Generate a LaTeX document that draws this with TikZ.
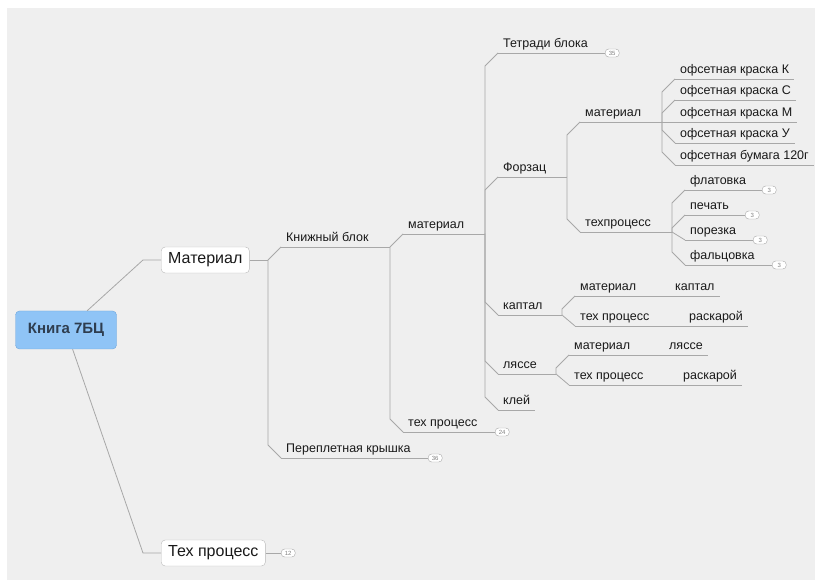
\documentclass[tikz,border=0pt]{standalone}
\usepackage{fontspec}
\setmainfont{Liberation Sans}
\usetikzlibrary{calc}
\definecolor{panel}{HTML}{EFEFEF}
\definecolor{twiggray}{HTML}{A8A8A8}
\definecolor{rootblue}{HTML}{8FC4F6}
\definecolor{rootedge}{HTML}{6FA6DC}
\definecolor{roottext}{HTML}{2E3D4F}
\begin{document}
\begin{tikzpicture}[x=1pt,y=-1pt]
\tikzstyle{root} = [font=\fontsize{15}{17}\selectfont\bfseries,text=roottext,fill=rootblue,draw=rootedge,rounded corners=4,minimum width=101,minimum height=38];
\tikzstyle{main} = [font=\fontsize{16}{18}\selectfont,text=black!90,fill=white,draw=gray!55,rounded corners=4,minimum height=26,inner xsep=7,anchor=west];
\tikzstyle{topic} = [font=\fontsize{12.5}{15}\selectfont,text=black!90,anchor=south west,inner xsep=5,inner ysep=2,text height=10,text depth=3];
\tikzstyle{count} = [font=\fontsize{6}{6}\selectfont,text=gray,fill=white,draw=gray!70,rounded corners=3.5,minimum width=14,minimum height=8,inner sep=0,anchor=west];
\tikzstyle{twig} = [draw=twiggray,line width=0.8];
\tikzstyle{rise} = [to path={|- ($(\tikztotarget.south west)+(-13,13)$) -- (\tikztotarget.south west)}];
\tikzstyle{fall} = [to path={|- ($(\tikztotarget.south west)+(-13,-13)$) -- (\tikztotarget.south west)}];
\fill[white] (0,0) rectangle (815,580);
\fill[panel] (7,8) rectangle (815,580);
\useasboundingbox (0,0) rectangle (815,580);

% main topics
\node [root] (book) at (66,330) {Книга 7БЦ};
\node [main] (mat) at (161,260) {Материал};
\node [main] (tp) at (161,553) {Тех процесс};
\node [count] (tp-n) at (281,553) {12};

% Материал
\node [topic] (kb) at (281,247) {Книжный блок};
\node [topic] (pk) at (281,458) {Переплетная крышка};
\node [count] (pk-n) at (428,458) {36};
\node [topic] (kbm) at (403,234) {материал};
\node [topic] (kbt) at (403,432) {тех процесс};
\node [count] (kbt-n) at (495,432) {24};
\node [topic] (tb) at (498,53) {Тетради блока};
\node [count] (tb-n) at (605,53) {35};
\node [topic] (fz) at (498,177) {Форзац};
\node [topic] (kp) at (498,315) {каптал};
\node [topic] (ls) at (498,374) {ляссе};
\node [topic] (kl) at (498,410) {клей};

% Форзац
\node [topic] (fzm) at (580,122) {материал};
\node [topic] (fzt) at (580,232) {техпроцесс};
\node [topic] (k1) at (675,79) {офсетная краска К};
\node [topic] (k2) at (675,100) {офсетная краска С};
\node [topic] (k3) at (675,122) {офсетная краска М};
\node [topic] (k4) at (675,143) {офсетная краска У};
\node [topic] (k5) at (675,165) {офсетная бумага 120г};
\node [topic] (t1) at (685,190) {флатовка};
\node [count] (t1-n) at (762,190) {3};
\node [topic] (t2) at (685,215) {печать};
\node [count] (t2-n) at (745,215) {3};
\node [topic] (t3) at (685,240) {порезка};
\node [count] (t3-n) at (753,240) {3};
\node [topic] (t4) at (685,265) {фальцовка};
\node [count] (t4-n) at (772,265) {3};

% каптал, ляссе
\node [topic] (kpm) at (575,296) {материал};
\node [topic] (kpl) at (670,296) {каптал};
\node [topic] (kpt) at (575,326) {тех процесс};
\node [topic] (kpr) at (684,326) {раскарой};
\node [topic] (lsm) at (569,355) {материал};
\node [topic] (lsl) at (664,355) {ляссе};
\node [topic] (lst) at (569,385) {тех процесс};
\node [topic] (lsr) at (678,385) {раскарой};

\coordinate (mat-j) at (268,260);
\coordinate (kb-j) at (390,247);
\coordinate (kbm-j) at (485,234);
\coordinate (fz-j) at (567,177);
\coordinate (fzm-j) at (662,122);
\coordinate (fzt-j) at (672,232);
\coordinate (kp-j) at (562,315);
\coordinate (ls-j) at (556,374);

\draw [twig] (book) -- ($(mat.west)+(-18,0)$) -- (mat.west);
\draw [twig] (book) -- ($(tp.west)+(-18,0)$) -- (tp.west);
\draw [twig] (tp.east) -- (tp-n.west);
\draw [twig] (mat.east) -- (mat-j);
\draw [twig] (mat-j) to[rise] (kb);
\draw [twig] (mat-j) to[fall] (pk);
\draw [twig] (kb.south west) -- (kb-j);
\draw [twig] (pk.south west) -- (pk-n.west);
\draw [twig] (kb-j) to[rise] (kbm);
\draw [twig] (kb-j) to[fall] (kbt);
\draw [twig] (kbm.south west) -- (kbm-j);
\draw [twig] (kbt.south west) -- (kbt-n.west);
\draw [twig] (kbm-j) to[rise] (tb);
\draw [twig] (kbm-j) to[rise] (fz);
\draw [twig] (kbm-j) to[fall] (kp);
\draw [twig] (kbm-j) to[fall] (ls);
\draw [twig] (kbm-j) to[fall] (kl);
\draw [twig] (tb.south west) -- (tb-n.west);
\draw [twig] (fz.south west) -- (fz-j);
\draw [twig] (kp.south west) -- (kp-j);
\draw [twig] (ls.south west) -- (ls-j);
\draw [twig] (kl.south west) -- (kl.south east);

\draw [twig] (fz-j) to[rise] (fzm);
\draw [twig] (fz-j) to[fall] (fzt);
\draw [twig] (fzm.south west) -- (fzm-j);
\draw [twig] (fzt.south west) -- (fzt-j);
\draw [twig] (fzm-j) to[rise] (k1);
\draw [twig] (fzm-j) to[rise] (k2);
\draw [twig] (fzm-j) -- (k3.south west);
\draw [twig] (fzm-j) to[fall] (k4);
\draw [twig] (fzm-j) to[fall] (k5);
\draw [twig] (k1.south west) -- (k1.south east);
\draw [twig] (k2.south west) -- (k2.south east);
\draw [twig] (k3.south west) -- (k3.south east);
\draw [twig] (k4.south west) -- (k4.south east);
\draw [twig] (k5.south west) -- (k5.south east);
\draw [twig] (fzt-j) to[rise] (t1);
\draw [twig] (fzt-j) to[rise] (t2);
\draw [twig] (fzt-j) -- (t3.south west);
\draw [twig] (fzt-j) to[fall] (t4);
\draw [twig] (t1.south west) -- (t1-n.west);
\draw [twig] (t2.south west) -- (t2-n.west);
\draw [twig] (t3.south west) -- (t3-n.west);
\draw [twig] (t4.south west) -- (t4-n.west);

\draw [twig] (kp-j) to[rise] (kpm);
\draw [twig] (kp-j) -- (kpt.south west);
\draw [twig] (kpm.south west) -- (kpl.south east);
\draw [twig] (kpt.south west) -- (kpr.south east);
\draw [twig] (ls-j) to[rise] (lsm);
\draw [twig] (ls-j) -- (lst.south west);
\draw [twig] (lsm.south west) -- (lsl.south east);
\draw [twig] (lst.south west) -- (lsr.south east);
\end{tikzpicture}
\end{document}
